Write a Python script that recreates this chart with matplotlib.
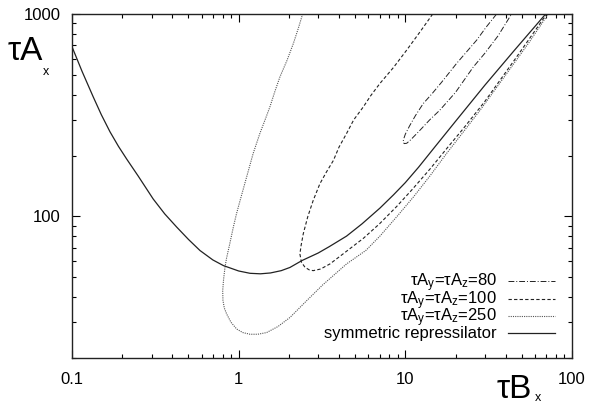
import matplotlib
matplotlib.use("Agg")
import matplotlib.pyplot as plt
from matplotlib.ticker import LogLocator, NullFormatter, FixedLocator, FixedFormatter

plt.rcParams['font.family'] = ['Liberation Sans', 'DejaVu Sans']
plt.rcParams['mathtext.fontset'] = 'custom'
plt.rcParams['mathtext.rm'] = 'Liberation Sans'
plt.rcParams['mathtext.it'] = 'Liberation Sans'
plt.rcParams['mathtext.default'] = 'regular'

# symmetric repressilator
sym_x = [0.1, 0.115, 0.134, 0.15, 0.169, 0.19, 0.213, 0.25, 0.307, 0.36, 0.425, 0.5, 0.586,
         0.7, 0.81, 1.0, 1.17, 1.35, 1.55, 1.8, 2.03, 2.4, 3.0, 3.5, 4.44, 5.5, 7.04, 8.5,
         10, 12, 15, 20, 30, 45, 69.5]
sym_y = [689, 520, 390, 318, 262, 222, 192, 158, 122, 103, 88.6, 77, 67.9,
         61, 57.2, 53.8, 52.4, 52.1, 52.6, 54, 56, 60.6, 66, 71, 80, 92, 110, 128,
         147, 175, 220, 295, 445, 660, 1000]

# tauAy = tauAz = 250 (dotted)
d250_x = [2.42, 2.28, 2.13, 1.95, 1.77, 1.65, 1.54, 1.44, 1.34, 1.22, 1.117, 1.02, 0.97, 0.929,
          0.88, 0.845, 0.828, 0.812, 0.802, 0.805, 0.82, 0.847, 0.9, 0.973, 1.06, 1.17, 1.3,
          1.47, 1.72, 2.03, 2.56, 3.2, 4.44, 5.8, 7.04, 9, 11.2, 14, 17.7, 22, 28.1, 40, 55, 72]
d250_y = [1000, 850, 716, 590, 490, 415, 348, 300, 257, 204, 157, 120, 103, 88.6,
          72, 62, 56.1, 49, 43, 38.5, 35.3, 33, 30, 27.8, 26.7, 26.2, 26.2,
          26.7, 28.6, 31.7, 38.4, 46, 58.3, 68, 80, 101, 125, 158, 205, 258, 335, 500, 720, 1000]

# tauAy = tauAz = 100 (dashed)
d100_x = [14.6, 12.3, 10.2, 8.5, 7.04, 6.2, 5.6, 4.9, 4.44, 4.0, 3.7, 3.35, 3.07, 2.8, 2.6,
          2.44, 2.37, 2.33, 2.38, 2.5, 2.65, 2.8, 3.1, 3.53, 4.3, 5.6, 7.0, 8.87, 11, 14.1,
          18, 22.3, 30, 45, 70.5]
d100_y = [1000, 820, 664, 545, 454, 395, 348, 300, 257, 220, 189, 165, 145, 120, 100,
          82, 72, 65.3, 59.5, 56.1, 54.5, 54, 55, 58.3, 66, 78, 92, 112, 136, 172,
          220, 272, 370, 590, 1000]

# tauAy = tauAz = 80 (dash-dot)
d80_x = [35.3, 30.5, 26.8, 23.3, 20.3, 16.5, 14.5, 12.8, 11.5, 10.6, 10.0, 9.75, 9.7, 9.85,
         10.2, 10.7, 12, 14, 16.1, 20, 25.6, 30, 36, 43.4]
d80_y = [1000, 860, 743, 650, 570, 460, 405, 361, 315, 280, 255, 240, 233, 229,
         230, 238, 262, 300, 335, 410, 548, 640, 780, 1000]

labels = [r'τA$_y$=τA$_z$=80', r'τA$_y$=τA$_z$=100', r'τA$_y$=τA$_z$=250', 'symmetric repressilator']

fig = plt.figure(figsize=(5.89, 4.07), dpi=100)
ax = fig.add_axes([72/589, 1-358/407, 500/589, 344/407])

lc = '#222222'
styles = [
    dict(color=lc, lw=0.7, ls=(0, (6, 2, 1, 2))),
    dict(color=lc, lw=0.8, ls=(0, (3, 2))),
    dict(color='#555555', lw=0.8, ls=(0, (1, 1))),
    dict(color=lc, lw=0.9, ls='-'),
]
series = [(d80_x, d80_y), (d100_x, d100_y), (d250_x, d250_y), (sym_x, sym_y)]
for (xs, ys), st in zip(series, styles):
    ax.plot(xs, ys, **st)

ax.set_xscale('log')
ax.set_yscale('log')
ax.set_xlim(0.1, 100)
ax.set_ylim(20, 1000)

ax.yaxis.set_major_locator(FixedLocator([100, 1000]))
ax.yaxis.set_major_formatter(FixedFormatter(['100', '1000']))
ax.yaxis.set_minor_locator(LogLocator(base=10, subs=range(2, 10)))
ax.yaxis.set_minor_formatter(NullFormatter())
ax.xaxis.set_major_locator(FixedLocator([0.1, 1, 10, 100]))
ax.xaxis.set_major_formatter(FixedFormatter(['0.1', '1', '10', '100']))
ax.xaxis.set_minor_locator(LogLocator(base=10, subs=range(2, 10)))
ax.xaxis.set_minor_formatter(NullFormatter())

ax.tick_params(which='both', direction='in', top=True, right=True, labelsize=12, width=0.8)
ax.tick_params(which='major', length=6)
ax.tick_params(which='minor', length=3)
ax.tick_params(axis='y', which='major', pad=8)
ax.tick_params(axis='x', which='major', pad=10)
for s in ax.spines.values():
    s.set_linewidth(1.0)
    s.set_color('#222222')

# legend (gnuplot style: text right-aligned, sample to the right)
rows_px = [281, 299, 316, 333]
for lab, st, rp in zip(labels, styles, rows_px):
    ya = (358 - rp) / 344
    yb = (358 - rp - 5) / 344
    ax.text((497 - 72) / 500, yb, lab, transform=ax.transAxes, ha='right', va='baseline',
            fontsize=12)
    ax.plot([(508 - 72) / 500, (555 - 72) / 500], [ya, ya], transform=ax.transAxes,
            clip_on=False, **st)

fig.text(8/589, 1-60/407, 'τA', fontsize=24, va='baseline', ha='left')
fig.text(43/589, 1-75/407, 'x', fontsize=9, va='baseline', ha='left')
fig.text(497/589, 1-398/407, 'τB', fontsize=24, va='baseline', ha='left')
fig.text(535/589, 1-401/407, 'x', fontsize=9, va='baseline', ha='left')

fig.savefig('out.png', dpi=100)
